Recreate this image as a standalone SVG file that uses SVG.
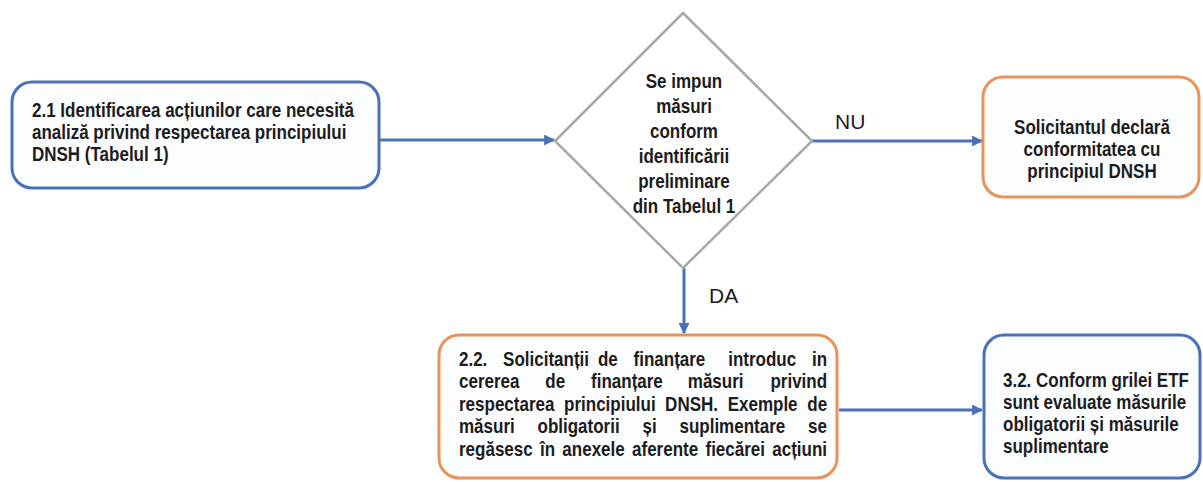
<svg xmlns="http://www.w3.org/2000/svg" width="1203" height="482" viewBox="0 0 1203 482">
<style>
.box{fill:#fcfdff;stroke-width:3}
.blue{stroke:#4a70b8}
.orange{stroke:#e9935c}
.dia{fill:#ffffff;stroke:#a8a8a8;stroke-width:2.5}
.t{font-family:"Liberation Sans",Arial,sans-serif;font-weight:bold;font-size:20px;fill:#1c1c1c}
.tc{text-anchor:middle}
.lbl{font-family:"Liberation Sans",Arial,sans-serif;font-size:21px;fill:#1c1c1c}
.conn{fill:none;stroke:#4a70b8;stroke-width:3}
</style>
<defs>
<marker id="ah" viewBox="0 0 10 10" refX="9" refY="5" markerWidth="11" markerHeight="11" markerUnits="userSpaceOnUse" orient="auto">
<path d="M0,0 L10,5 L0,10 Z" fill="#4a70b8"/>
</marker>
</defs>
<g id="connectors">
<line class="conn" x1="380" y1="140" x2="554" y2="140" marker-end="url(#ah)"/>
<line class="conn" x1="812" y1="141" x2="982" y2="141" marker-end="url(#ah)"/>
<line class="conn" x1="684" y1="268" x2="684" y2="333" marker-end="url(#ah)"/>
<line class="conn" x1="839" y1="410" x2="982" y2="410" marker-end="url(#ah)"/>
<text class="lbl" x="835" y="129">NU</text>
<text class="lbl" x="709" y="303">DA</text>
</g>
<g id="node-2-1">
<rect class="box blue" x="12" y="82" width="367" height="106" rx="20"/>
<g transform="translate(32 0) scale(0.85 1)">
<text class="t" x="0" y="117">2.1 Identificarea acțiunilor care necesită</text>
<text class="t" x="0" y="139">analiză privind respectarea principiului</text>
<text class="t" x="0" y="161">DNSH (Tabelul 1)</text>
</g>
</g>
<g id="node-decision">
<polygon class="dia" points="683,13 812,141 683,268 555,141"/>
<g transform="translate(684 0) scale(0.85 1)">
<text class="t tc" x="0" y="88">Se impun</text>
<text class="t tc" x="0" y="113">măsuri</text>
<text class="t tc" x="0" y="138">conform</text>
<text class="t tc" x="0" y="163">identificării</text>
<text class="t tc" x="0" y="188">preliminare</text>
<text class="t tc" x="0" y="213">din Tabelul 1</text>
</g>
</g>
<g id="node-nu">
<rect class="box orange" x="983" y="77" width="216" height="120" rx="20"/>
<g transform="translate(1092 0) scale(0.85 1)">
<text class="t tc" x="0" y="134">Solicitantul declară</text>
<text class="t tc" x="0" y="156">conformitatea cu</text>
<text class="t tc" x="0" y="178">principiul DNSH</text>
</g>
</g>
<g id="node-2-2">
<rect class="box orange" x="439" y="335" width="398" height="143" rx="20"/>
<g transform="translate(459 0) scale(0.85 1)">
<text class="t" y="366"><tspan x="0">2.2.</tspan><tspan x="51.9">Solicitanții</tspan><tspan x="163.5">de</tspan><tspan x="205.4">finanțare</tspan><tspan x="316.7">introduc</tspan><tspan x="415.3">in</tspan></text>
<text class="t" y="388.5"><tspan x="0">cererea</tspan><tspan x="101.6">de</tspan><tspan x="155.4">finanțare</tspan><tspan x="269.2">măsuri</tspan><tspan x="366.4">privind</tspan></text>
<text class="t" y="411"><tspan x="0">respectarea</tspan><tspan x="123.6">principiului</tspan><tspan x="242.5">DNSH.</tspan><tspan x="316.1">Exemple</tspan><tspan x="409.8">de</tspan></text>
<text class="t" y="433.5"><tspan x="0">măsuri</tspan><tspan x="92.4">obligatorii</tspan><tspan x="215.9">și</tspan><tspan x="259.4">suplimentare</tspan><tspan x="410.7">se</tspan></text>
<text class="t" y="456"><tspan x="0">regăsesc</tspan><tspan x="95.3">în</tspan><tspan x="121.6">anexele</tspan><tspan x="203.6">aferente</tspan><tspan x="290.0">fiecărei</tspan><tspan x="368.6">acțiuni</tspan></text>
</g>
</g>
<g id="node-3-2">
<rect class="box blue" x="984" y="335" width="216" height="143" rx="20"/>
<g transform="translate(1003 0) scale(0.85 1)">
<text class="t" x="0" y="387">3.2. Conform grilei ETF</text>
<text class="t" x="0" y="409">sunt evaluate măsurile</text>
<text class="t" x="0" y="431">obligatorii și măsurile</text>
<text class="t" x="0" y="453">suplimentare</text>
</g>
</g>
</svg>
